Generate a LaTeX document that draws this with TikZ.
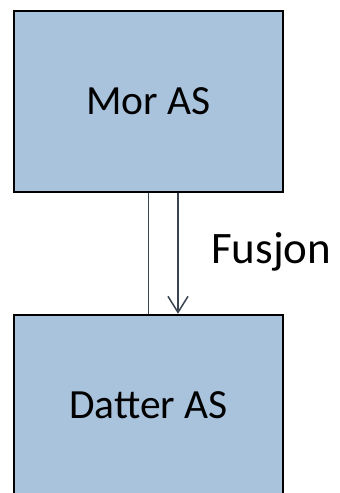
\documentclass[tikz,border=0pt]{standalone}
\usepackage{fontspec}
\setmainfont{Carlito}
\usetikzlibrary{arrows.meta}
\definecolor{boxblue}{RGB}{169,195,221}
\definecolor{linkgray}{RGB}{58,68,82}
\begin{document}
\begin{tikzpicture}[
  x=1pt,y=-1pt,
  firm/.style={shape=rectangle,draw=black,line width=2.5pt,fill=boxblue,
    minimum width=269pt,minimum height=181pt,inner sep=0pt,
    font=\fontsize{41.5}{48}\selectfont},
  link/.style={draw=linkgray,line width=1.5pt},
  merge/.style={link,-{Straight Barb[length=16pt,width=20pt,line width=1.5pt]}}
]
  \useasboundingbox (0,0) rectangle (340,493);
  \node[firm] (mor)    at (148.5,101.5) {Mor AS};
  \node[firm] (datter) at (148.5,405.5) {Datter AS};

  \draw[link]  (mor.south) -- (datter.north);
  \draw[merge] ([xshift=29.5pt]mor.south) -- ([xshift=29.5pt]datter.north);
  \node[anchor=base west,inner sep=0pt,font=\fontsize{45}{52}\selectfont] (fusjon) at (211,263) {Fusjon};
\end{tikzpicture}
\end{document}
